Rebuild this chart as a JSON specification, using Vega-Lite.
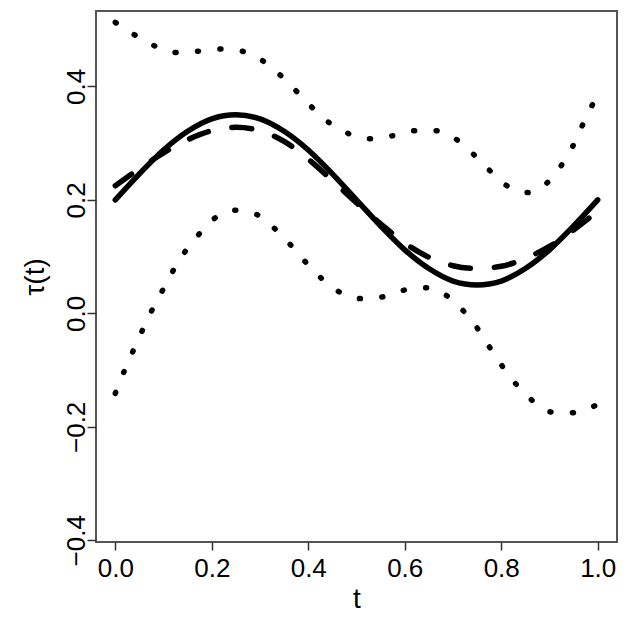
{
  "$schema": "https://vega.github.io/schema/vega-lite/v6.json",
  "autosize": {"type": "none"},
  "width": 521,
  "height": 531,
  "padding": {"left": 96, "top": 11, "right": 11, "bottom": 79},
  "background": "white",
  "config": {
    "font": "Liberation Sans",
    "view": {"stroke": "#555", "strokeWidth": 2},
    "axis": {"grid": false, "domain": false, "tickColor": "#333", "tickWidth": 1.5, "labelColor": "black", "titleColor": "black", "titleFontWeight": "normal"}
  },
  "datasets": {
    "solid": [
      {"t": 0, "v": 0.2}, {"t": 0.05, "v": 0.246}, {"t": 0.1, "v": 0.288}, {"t": 0.15, "v": 0.321},
      {"t": 0.2, "v": 0.343}, {"t": 0.25, "v": 0.35}, {"t": 0.3, "v": 0.343}, {"t": 0.35, "v": 0.321},
      {"t": 0.4, "v": 0.288}, {"t": 0.45, "v": 0.246}, {"t": 0.5, "v": 0.2}, {"t": 0.55, "v": 0.154},
      {"t": 0.6, "v": 0.112}, {"t": 0.65, "v": 0.079}, {"t": 0.7, "v": 0.057}, {"t": 0.75, "v": 0.05},
      {"t": 0.8, "v": 0.057}, {"t": 0.85, "v": 0.079}, {"t": 0.9, "v": 0.112}, {"t": 0.95, "v": 0.154},
      {"t": 1.0, "v": 0.2}
    ],
    "dashed": [
      {"t": 0, "v": 0.225}, {"t": 0.05, "v": 0.255}, {"t": 0.1, "v": 0.283}, {"t": 0.15, "v": 0.306},
      {"t": 0.2, "v": 0.322}, {"t": 0.25, "v": 0.328}, {"t": 0.3, "v": 0.322}, {"t": 0.35, "v": 0.303},
      {"t": 0.4, "v": 0.272}, {"t": 0.45, "v": 0.234}, {"t": 0.5, "v": 0.195}, {"t": 0.55, "v": 0.158},
      {"t": 0.6, "v": 0.124}, {"t": 0.65, "v": 0.099}, {"t": 0.7, "v": 0.084}, {"t": 0.75, "v": 0.079},
      {"t": 0.8, "v": 0.083}, {"t": 0.85, "v": 0.097}, {"t": 0.9, "v": 0.118}, {"t": 0.95, "v": 0.147},
      {"t": 1.0, "v": 0.18}
    ],
    "upper": [
      {"t": 0, "v": 0.513}, {"t": 0.04, "v": 0.491}, {"t": 0.08, "v": 0.472}, {"t": 0.124, "v": 0.46},
      {"t": 0.17, "v": 0.462}, {"t": 0.217, "v": 0.466}, {"t": 0.263, "v": 0.462}, {"t": 0.306, "v": 0.445},
      {"t": 0.342, "v": 0.42}, {"t": 0.375, "v": 0.392}, {"t": 0.408, "v": 0.363}, {"t": 0.442, "v": 0.337},
      {"t": 0.483, "v": 0.317}, {"t": 0.528, "v": 0.308}, {"t": 0.574, "v": 0.313}, {"t": 0.62, "v": 0.322},
      {"t": 0.665, "v": 0.322}, {"t": 0.708, "v": 0.306}, {"t": 0.743, "v": 0.28}, {"t": 0.776, "v": 0.252},
      {"t": 0.81, "v": 0.226}, {"t": 0.854, "v": 0.213}, {"t": 0.895, "v": 0.23}, {"t": 0.924, "v": 0.26},
      {"t": 0.948, "v": 0.294}, {"t": 0.968, "v": 0.331}, {"t": 0.988, "v": 0.366}, {"t": 1.0, "v": 0.385}
    ],
    "lower": [
      {"t": 0, "v": -0.141}, {"t": 0.017, "v": -0.105}, {"t": 0.036, "v": -0.068}, {"t": 0.055, "v": -0.032},
      {"t": 0.075, "v": 0.004}, {"t": 0.097, "v": 0.039}, {"t": 0.119, "v": 0.074}, {"t": 0.144, "v": 0.108},
      {"t": 0.173, "v": 0.139}, {"t": 0.205, "v": 0.167}, {"t": 0.248, "v": 0.182}, {"t": 0.294, "v": 0.174},
      {"t": 0.331, "v": 0.149}, {"t": 0.363, "v": 0.121}, {"t": 0.394, "v": 0.091}, {"t": 0.427, "v": 0.062},
      {"t": 0.464, "v": 0.038}, {"t": 0.509, "v": 0.026}, {"t": 0.554, "v": 0.029}, {"t": 0.599, "v": 0.041},
      {"t": 0.645, "v": 0.045}, {"t": 0.689, "v": 0.03}, {"t": 0.722, "v": 0.004}, {"t": 0.752, "v": -0.028},
      {"t": 0.777, "v": -0.061}, {"t": 0.803, "v": -0.094}, {"t": 0.832, "v": -0.126}, {"t": 0.865, "v": -0.154},
      {"t": 0.905, "v": -0.174}, {"t": 0.951, "v": -0.175}, {"t": 0.996, "v": -0.162}
    ]
  },
  "encoding": {
    "x": {
      "field": "t", "type": "quantitative",
      "scale": {"domain": [-0.04, 1.04], "nice": false, "zero": false},
      "axis": {"values": [0, 0.2, 0.4, 0.6, 0.8, 1.0], "format": ".1f", "title": "t",
               "tickSize": 8, "labelFontSize": 26, "labelPadding": 5, "titleFontSize": 28, "titlePadding": 4, "labelFlush": false}
    },
    "y": {
      "field": "v", "type": "quantitative",
      "scale": {"domain": [-0.403, 0.533], "nice": false, "zero": false},
      "axis": {"values": [-0.4, -0.2, 0, 0.2, 0.4], "format": ".1f", "title": "τ(t)",
               "tickSize": 9, "labelAngle": -90, "labelAlign": "center", "labelBaseline": "alphabetic",
               "labelFontSize": 26, "labelPadding": 3, "titleFontSize": 28, "titlePadding": 14, "labelFlush": false}
    }
  },
  "layer": [
    {"data": {"name": "upper"}, "mark": {"type": "line", "color": "black", "strokeWidth": 5.5, "strokeCap": "round", "strokeDash": [1, 21.5], "interpolate": "monotone"}},
    {"data": {"name": "lower"}, "mark": {"type": "line", "color": "black", "strokeWidth": 5.5, "strokeCap": "round", "strokeDash": [1, 21.5], "interpolate": "monotone"}},
    {"data": {"name": "dashed"}, "mark": {"type": "line", "color": "black", "strokeWidth": 5.5, "strokeCap": "round", "strokeDash": [20, 24], "interpolate": "monotone"}},
    {"data": {"name": "solid"}, "mark": {"type": "line", "color": "black", "strokeWidth": 5.5, "strokeCap": "round", "interpolate": "monotone"}}
  ]
}
